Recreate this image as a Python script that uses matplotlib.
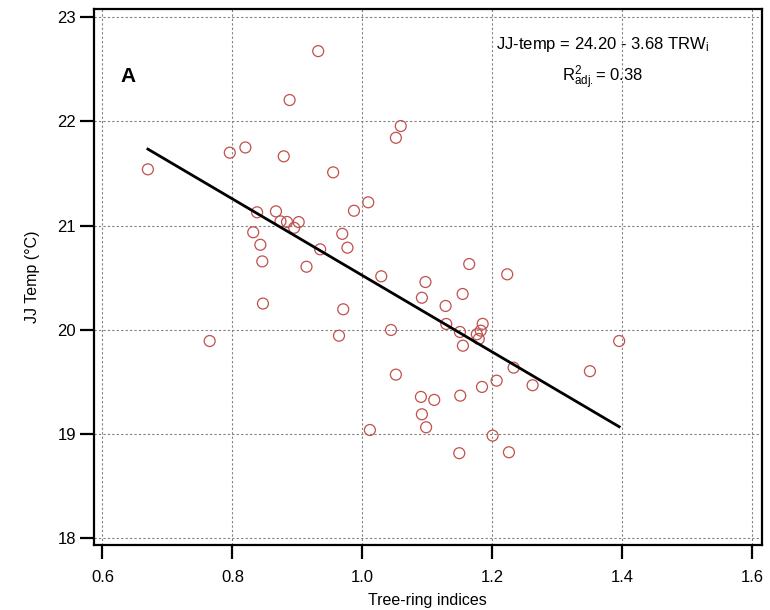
import matplotlib
matplotlib.use("Agg")
import matplotlib.pyplot as plt
import numpy as np

plt.rcParams['font.family'] = ['Liberation Sans', 'DejaVu Sans']
plt.rcParams['mathtext.fontset'] = 'custom'
plt.rcParams['mathtext.rm'] = 'Liberation Sans'
plt.rcParams['mathtext.it'] = 'Liberation Sans:italic'
plt.rcParams['mathtext.bf'] = 'Liberation Sans:bold'

# Tree-ring width indices and June-July mean temperature
trw = [0.670, 0.765, 0.796, 0.820, 0.832, 0.838, 0.843, 0.846, 0.847, 0.867,
       0.874, 0.879, 0.884, 0.888, 0.895, 0.902, 0.914, 0.932, 0.935, 0.955,
       0.964, 0.969, 0.9705, 0.977, 0.987, 1.009, 1.0115, 1.029, 1.044, 1.0515,
       1.0515, 1.059, 1.090, 1.0915, 1.0915, 1.097, 1.098, 1.1105, 1.128, 1.129,
       1.149, 1.150, 1.1505, 1.1542, 1.1546, 1.1643, 1.176, 1.179, 1.182, 1.185,
       1.184, 1.2003, 1.2065, 1.2228, 1.2254, 1.2326, 1.2618, 1.350, 1.395]
jj_temp = [21.54, 19.89, 21.70, 21.75, 20.935, 21.127, 20.815, 20.655, 20.25, 21.136,
           21.04, 21.665, 21.034, 22.206, 20.978, 21.033, 20.604, 22.676, 20.771, 21.511,
           19.941, 20.92, 20.195, 20.787, 21.142, 21.223, 19.035, 20.512, 19.996, 21.843,
           19.567, 21.956, 19.353, 20.306, 19.186, 20.457, 19.061, 19.324, 20.227, 20.054,
           18.812, 19.977, 19.365, 20.342, 19.845, 20.630, 19.955, 19.91, 19.99, 20.055,
           19.449, 18.981, 19.509, 20.531, 18.821, 19.634, 19.465, 19.60, 19.89]

# Regression: JJ-temp = intercept + slope * TRW
intercept = 24.20
slope = -3.68
r2_adj = 0.38

x_ticks = [0.6, 0.8, 1.0, 1.2, 1.4, 1.6]
x_tick_labels = ['0.6', '0.8', '1.0', '1.2', '1.4', '1.6']
y_ticks = [18, 19, 20, 21, 22, 23]

fig = plt.figure(figsize=(7.7, 6.1), dpi=100)
ax = fig.add_axes([0.122, 0.1066, 0.867, 0.878])

ax.scatter(trw, jj_temp, s=62, facecolors='none', edgecolors='#c0504d',
           linewidths=0.9, zorder=3)

xl = np.array([min(trw), max(trw)])
ax.plot(xl, intercept + slope * xl, color='black', lw=2.0, zorder=4)

ax.set_xlim(0.587, 1.614)
ax.set_ylim(17.93, 23.077)
ax.set_xticks(x_ticks)
ax.set_xticklabels(x_tick_labels)
ax.set_yticks(y_ticks)

ax.grid(True, color='#808080', lw=0.8, linestyle=(0, (2, 2)))
ax.set_axisbelow(True)

for s in ax.spines.values():
    s.set_linewidth(1.6)
ax.tick_params(direction='out', length=10, width=1.6, labelsize=12, colors='black')
ax.tick_params(axis='x', pad=8)
ax.tick_params(axis='y', pad=3)

ax.set_xlabel('Tree-ring indices', fontsize=11.5, labelpad=6)
ax.set_ylabel('JJ Temp (°C)', fontsize=11.5, labelpad=12)

ax.text(0.0515, 0.875, 'A', transform=ax.transAxes, fontsize=15,
        fontweight='bold', ha='center', va='center')
ax.text(0.762, 0.935, r'JJ-temp = 24.20 - 3.68 TRW$_\mathrm{i}$',
        transform=ax.transAxes, fontsize=12, ha='center', va='center')
ax.text(0.762, 0.873, r'R$^{2}_{\mathrm{adj.}}$= %.2f' % r2_adj,
        transform=ax.transAxes, fontsize=12, ha='center', va='center')

fig.savefig('out.png', dpi=100)
